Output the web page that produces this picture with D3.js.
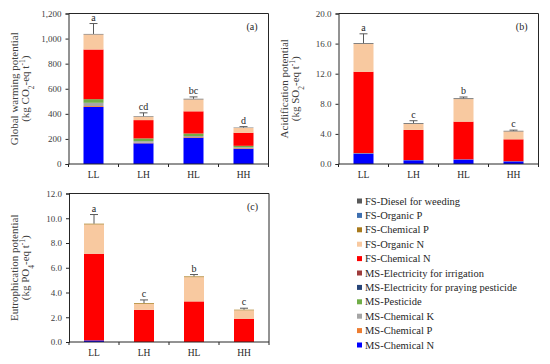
<!DOCTYPE html>
<html>
<head>
<meta charset="utf-8">
<script src="https://cdn.jsdelivr.net/npm/d3@7"></script>
<style>
  body { margin: 0; background: #fff; }
  text { font-family: "Liberation Serif", "Times New Roman", serif; }
</style>
</head>
<body>
<div class="chart"></div>
<script>
var width = 550
var height = 364

var categories = ['LL', 'LH', 'HL', 'HH']

// stacking order, bottom to top
var seriesNames = [
    'MS-Chemical N', 'MS-Chemical P', 'MS-Chemical K', 'MS-Pesticide',
    'MS-Electricity for praying pesticide', 'MS-Electricity for irrigation',
    'FS-Chemical N', 'FS-Organic N', 'FS-Chemical P', 'FS-Organic P', 'FS-Diesel for weeding'
]
var seriesColors = [
    '#0000ff', '#ed7d31', '#a5a5a5', '#70ad47',
    '#264478', '#9e3b3b',
    '#ff0000', '#f8c9a0', '#a87a1c', '#3d6fb0', '#595959'
]

// rows follow seriesNames, columns follow categories
var gwpValues = [
    [455, 165, 210, 122],
    [7, 5, 5, 5],
    [26, 12, 8, 6],
    [29, 22, 20, 12],
    [0, 0, 0, 0],
    [0, 0, 0, 0],
    [396, 146, 177, 104],
    [120, 27, 95, 38],
    [0, 0, 0, 0],
    [0, 0, 0, 0],
    [4, 4, 5, 3]
]
var gwpErrors = [1120, 408, 535, 298]
var gwpLetters = ['a', 'cd', 'bc', 'd']

var apValues = [
    [1.4, 0.5, 0.6, 0.35],
    [0.02, 0.01, 0.01, 0.01],
    [0.02, 0.01, 0.01, 0.01],
    [0.02, 0.01, 0.01, 0.01],
    [0, 0, 0, 0],
    [0, 0, 0, 0],
    [10.8, 4.0, 5.0, 2.9],
    [3.7, 0.8, 3.0, 1.05],
    [0, 0, 0, 0],
    [0, 0, 0, 0],
    [0.1, 0.1, 0.1, 0.08]
]
var apErrors = [17.3, 5.75, 8.9, 4.5]
var apLetters = ['a', 'c', 'b', 'c']

var epValues = [
    [0.13, 0, 0, 0],
    [0, 0, 0, 0],
    [0, 0, 0, 0],
    [0, 0, 0, 0],
    [0, 0, 0, 0],
    [0, 0, 0, 0],
    [7.0, 2.6, 3.28, 1.88],
    [2.37, 0.48, 1.96, 0.68],
    [0.06, 0.06, 0.06, 0.05],
    [0, 0, 0, 0],
    [0, 0, 0, 0]
]
var epErrors = [10.3, 3.4, 5.45, 2.73]
var epLetters = ['a', 'c', 'b', 'c']

var svg = d3.select('.chart').append('svg')
    .attr('width', width)
    .attr('height', height)

function drawPanel(opt) {
    var x0 = opt.left, x1 = opt.left + 200
    var y0 = opt.top, y1 = opt.bottom

    var x = d3.scaleBand().domain(categories).range([x0, x1]).paddingInner(0.6).paddingOuter(0.3)
    var y = d3.scaleLinear().domain([0, opt.max]).range([y1, y0])

    var rows = categories.map(function (c, j) {
        var r = { cat: c }
        seriesNames.forEach(function (s, i) { r[s] = opt.values[i][j] })
        return r
    })
    var stack = d3.stack().keys(seriesNames)(rows)

    var g = svg.append('g')

    g.selectAll('g.layer')
        .data(stack)
        .enter()
        .append('g')
        .attr('fill', function (d, i) { return seriesColors[i] })
        .selectAll('rect')
        .data(function (d) { return d })
        .enter()
        .append('rect')
        .attr('x', function (d) { return x(d.data.cat) })
        .attr('width', x.bandwidth())
        .attr('y', function (d) { return y(d[1]) })
        .attr('height', function (d) { return Math.max(0, y(d[0]) - y(d[1])) })

    // error bars
    var totals = rows.map(function (r) { return d3.sum(seriesNames, function (s) { return r[s] }) })
    categories.forEach(function (c, j) {
        var cx = x(c) + x.bandwidth() / 2
        g.append('line')
            .attr('x1', cx).attr('x2', cx)
            .attr('y1', y(totals[j])).attr('y2', y(opt.errors[j]))
            .attr('stroke', '#595959').attr('stroke-width', 1)
        g.append('line')
            .attr('x1', cx - 4).attr('x2', cx + 4)
            .attr('y1', y(opt.errors[j])).attr('y2', y(opt.errors[j]))
            .attr('stroke', '#595959').attr('stroke-width', 1)
        g.append('text')
            .attr('x', cx).attr('y', y(opt.errors[j]) - 3)
            .attr('text-anchor', 'middle')
            .attr('font-size', 10)
            .attr('fill', '#262626')
            .text(opt.letters[j])
    })

    // y axis
    var yAxis = d3.axisLeft(y).tickValues(d3.range(0, opt.max + opt.step / 2, opt.step))
        .tickSize(3).tickPadding(4).tickFormat(opt.format)
    var ya = g.append('g').attr('transform', 'translate(' + x0 + ',0)').call(yAxis)
    ya.selectAll('text').attr('font-size', 9).attr('fill', '#404040')
        .style('font-family', '"Liberation Serif", serif')
    ya.select('.domain').attr('stroke', '#262626')
    ya.selectAll('.tick line').attr('stroke', '#262626')

    // x axis, ticks at band edges
    var xa = g.append('g').attr('transform', 'translate(0,' + y1 + ')')
    xa.append('line').attr('x1', x0).attr('x2', x1).attr('stroke', '#262626')
    d3.range(5).forEach(function (k) {
        var tx = x0 + k * 50
        xa.append('line').attr('x1', tx).attr('x2', tx).attr('y1', 0).attr('y2', 3).attr('stroke', '#262626')
    })
    categories.forEach(function (c) {
        xa.append('text')
            .attr('x', x(c) + x.bandwidth() / 2).attr('y', 14)
            .attr('text-anchor', 'middle').attr('font-size', 9.5).attr('fill', '#262626')
            .text(c)
    })

    // frame top and right
    g.append('path')
        .attr('d', 'M' + x0 + ',' + y0 + 'H' + x1 + 'V' + y1)
        .attr('fill', 'none').attr('stroke', '#262626')

    g.append('text')
        .attr('x', x1 - 11).attr('y', y0 + 16)
        .attr('text-anchor', 'end').attr('font-size', 10).attr('fill', '#262626')
        .text(opt.label)

    // axis title, two lines
    var cy = (y0 + y1) / 2
    g.append('text')
        .attr('transform', 'translate(' + (x0 - 51) + ',' + cy + ') rotate(-90)')
        .attr('text-anchor', 'middle').attr('font-size', 11).attr('fill', '#404040')
        .text(opt.title)
    var t2 = g.append('text')
        .attr('transform', 'translate(' + (x0 - 40) + ',' + cy + ') rotate(-90)')
        .attr('text-anchor', 'middle').attr('font-size', 11).attr('fill', '#404040')
    t2.append('tspan').text('(kg ' + opt.unit)
    t2.append('tspan').attr('baseline-shift', 'sub').attr('font-size', 7.5).text(opt.sub)
    t2.append('tspan').text('-eq t')
    t2.append('tspan').attr('baseline-shift', 'super').attr('font-size', 7.5).text('-1')
    t2.append('tspan').text(')')
}

drawPanel({
    left: 68.5, top: 13.5, bottom: 164, max: 1200, step: 200,
    format: d3.format(','), values: gwpValues, errors: gwpErrors, letters: gwpLetters,
    label: '(a)', title: 'Global warming potential', unit: 'CO', sub: '2'
})
drawPanel({
    left: 338.5, top: 13.5, bottom: 164, max: 20, step: 4,
    format: d3.format('.1f'), values: apValues, errors: apErrors, letters: apLetters,
    label: '(b)', title: 'Acidification potential', unit: 'SO', sub: '2'
})
drawPanel({
    left: 69, top: 193.5, bottom: 342, max: 12, step: 2,
    format: d3.format('.1f'), values: epValues, errors: epErrors, letters: epLetters,
    label: '(c)', title: 'Eutrophication potential', unit: 'PO', sub: '4'
})

// legend, reversed so the top series comes first
var legend = svg.append('g')
seriesNames.slice().reverse().forEach(function (name, k) {
    var idx = seriesNames.length - 1 - k
    var ly = 201 + k * 14.4
    legend.append('rect')
        .attr('x', 357).attr('y', ly - 2.5).attr('width', 5).attr('height', 5)
        .attr('fill', seriesColors[idx])
    legend.append('text')
        .attr('x', 365).attr('y', ly + 3.6)
        .attr('font-size', 10.5).attr('fill', '#262626')
        .text(name)
})
</script>
</body>
</html>
